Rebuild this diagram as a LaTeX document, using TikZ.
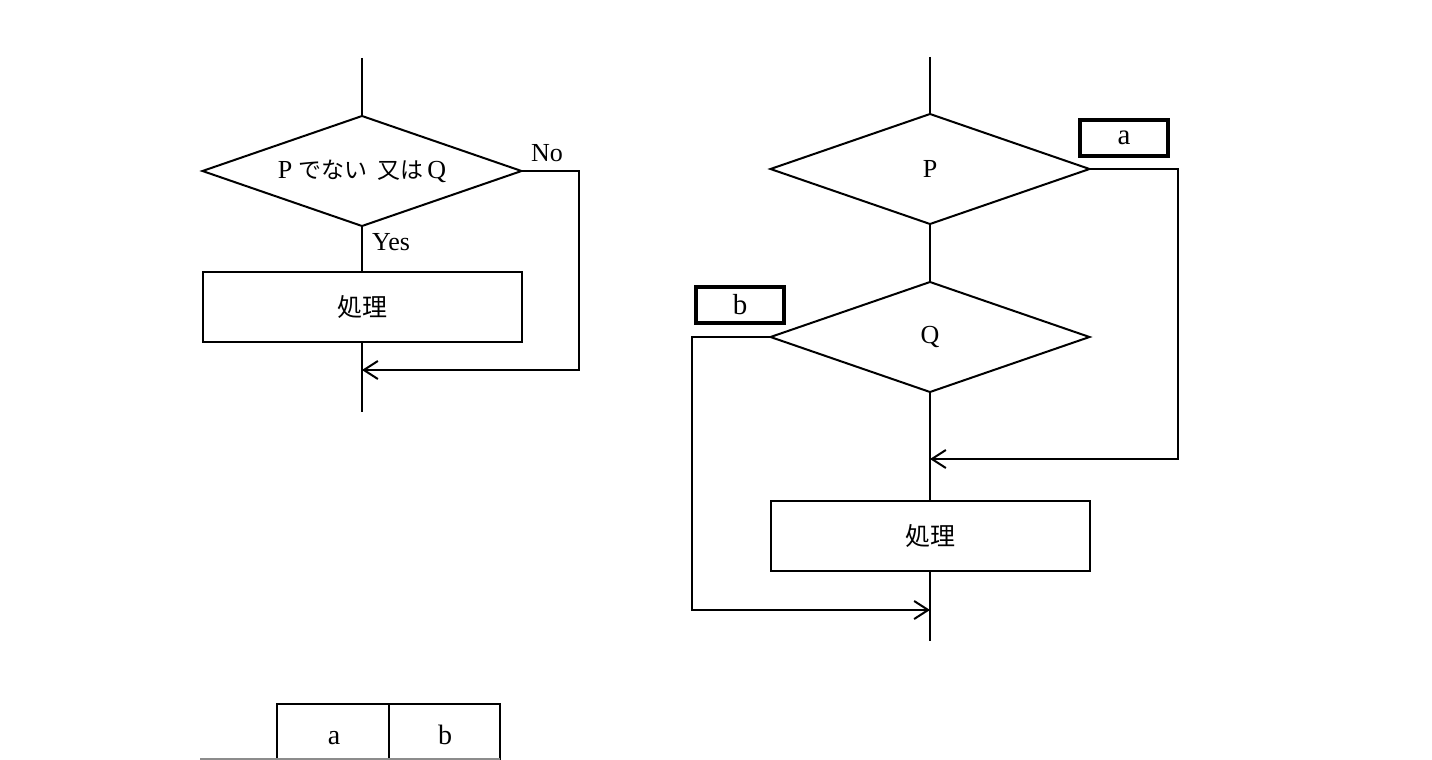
\documentclass[tikz,border=0pt]{standalone}
\usepackage{fontspec}
\setmainfont{Liberation Serif}
\newfontfamily\jp{Noto Sans CJK JP}
\usetikzlibrary{shapes.geometric,arrows.meta}
\tikzset{
  ln/.style={line width=2pt},
  dia/.style={draw,line width=2pt,shape=diamond,inner sep=0pt,outer sep=0pt,minimum width=319pt,minimum height=110pt},
  procbox/.style={draw,line width=2pt,inner sep=0pt,outer sep=0pt,minimum width=319pt,minimum height=70pt,font=\jp\fontsize{25}{28}\selectfont},
  tagbox/.style={draw,line width=3.5pt,inner sep=0pt,outer sep=0pt,minimum width=88pt,minimum height=36pt,font=\fontsize{29}{32}\selectfont},
  txt/.style={font=\fontsize{26}{28}\selectfont,inner sep=0pt},
  arr/.style={ln,-{Straight Barb[length=14pt,width=18pt,line width=2pt]}},
}
\begin{document}
\begin{tikzpicture}[x=1pt,y=-1pt]
\useasboundingbox (0,0) rectangle (1432,760);
\fill[white] (0,0) rectangle (1432,760);
% ---------- left flowchart ----------
\coordinate (ltop) at (362,58);
\node[dia] (d1) at (362,171) {};
\node[txt] at (d1.center) {P\hspace{6pt}{\jp\fontsize{23}{28}\selectfont でない\hspace{10pt}又は}\hspace{4pt}Q};
\node[procbox] (p1) at (362,307) {処理};
\coordinate (lbot) at (362,412);
\coordinate (lno1) at (579,171);
\coordinate (lno2) at (579,370);
\coordinate (lmerge) at (362,370);
\draw[ln] (ltop) -- (d1.north);
\draw[ln] (d1.south) -- (p1.north);
\draw[ln] (p1.south) -- (lbot);
\draw[ln] (d1.east) -- (lno1) -- (lno2) -- (lmerge);
\draw[arr] (lno2) -- (lmerge);
\node[txt,anchor=center] (no) at (547,153) {No};
\node[txt,anchor=center] (yes) at (391,242) {Yes};
% ---------- right flowchart ----------
\coordinate (rtop) at (930,57);
\node[dia] (dp) at (930,169) {};
\node[txt] at (dp.center) {P};
\node[dia] (dq) at (930,337) {};
\node[txt] at (dq.center) {Q};
\node[procbox] (p2) at (930,536) {処理};
\coordinate (rbot) at (930,641);
\node[tagbox] (ta) at (1124,138) {a};
\node[tagbox] (tb) at (740,305) {b};
\coordinate (ra1) at (1178,169);
\coordinate (ra2) at (1178,459);
\coordinate (ramerge) at (930,459);
\coordinate (rb1) at (692,337);
\coordinate (rb2) at (692,610);
\coordinate (rbmerge) at (930,610);
\draw[ln] (rtop) -- (dp.north);
\draw[ln] (dp.south) -- (dq.north);
\draw[ln] (dq.south) -- (p2.north);
\draw[ln] (p2.south) -- (rbot);
\draw[ln] (dp.east) -- (ra1) -- (ra2) -- (ramerge);
\draw[arr] (ra2) -- (ramerge);
\draw[ln] (dq.west) -- (rb1) -- (rb2) -- (rbmerge);
\draw[arr] (rb2) -- (rbmerge);
% ---------- bottom table (cut off) ----------
\begin{scope}
\clip (0,0) rectangle (1432,760);
\node[draw,line width=2pt,minimum width=112pt,minimum height=100pt,inner sep=0pt,outer sep=0pt,anchor=north west] (ca) at (277,704) {};
\node[draw,line width=2pt,minimum width=111pt,minimum height=100pt,inner sep=0pt,outer sep=0pt,anchor=north west] (cb) at (389,704) {};
\node[txt,font=\fontsize{28}{30}\selectfont,anchor=base] at (334,744) {a};
\node[txt,font=\fontsize{28}{30}\selectfont,anchor=base] at (445,744) {b};
\draw[line width=1.2pt,black!45] (200,759) -- (500,759);
\end{scope}
\end{tikzpicture}
\end{document}
